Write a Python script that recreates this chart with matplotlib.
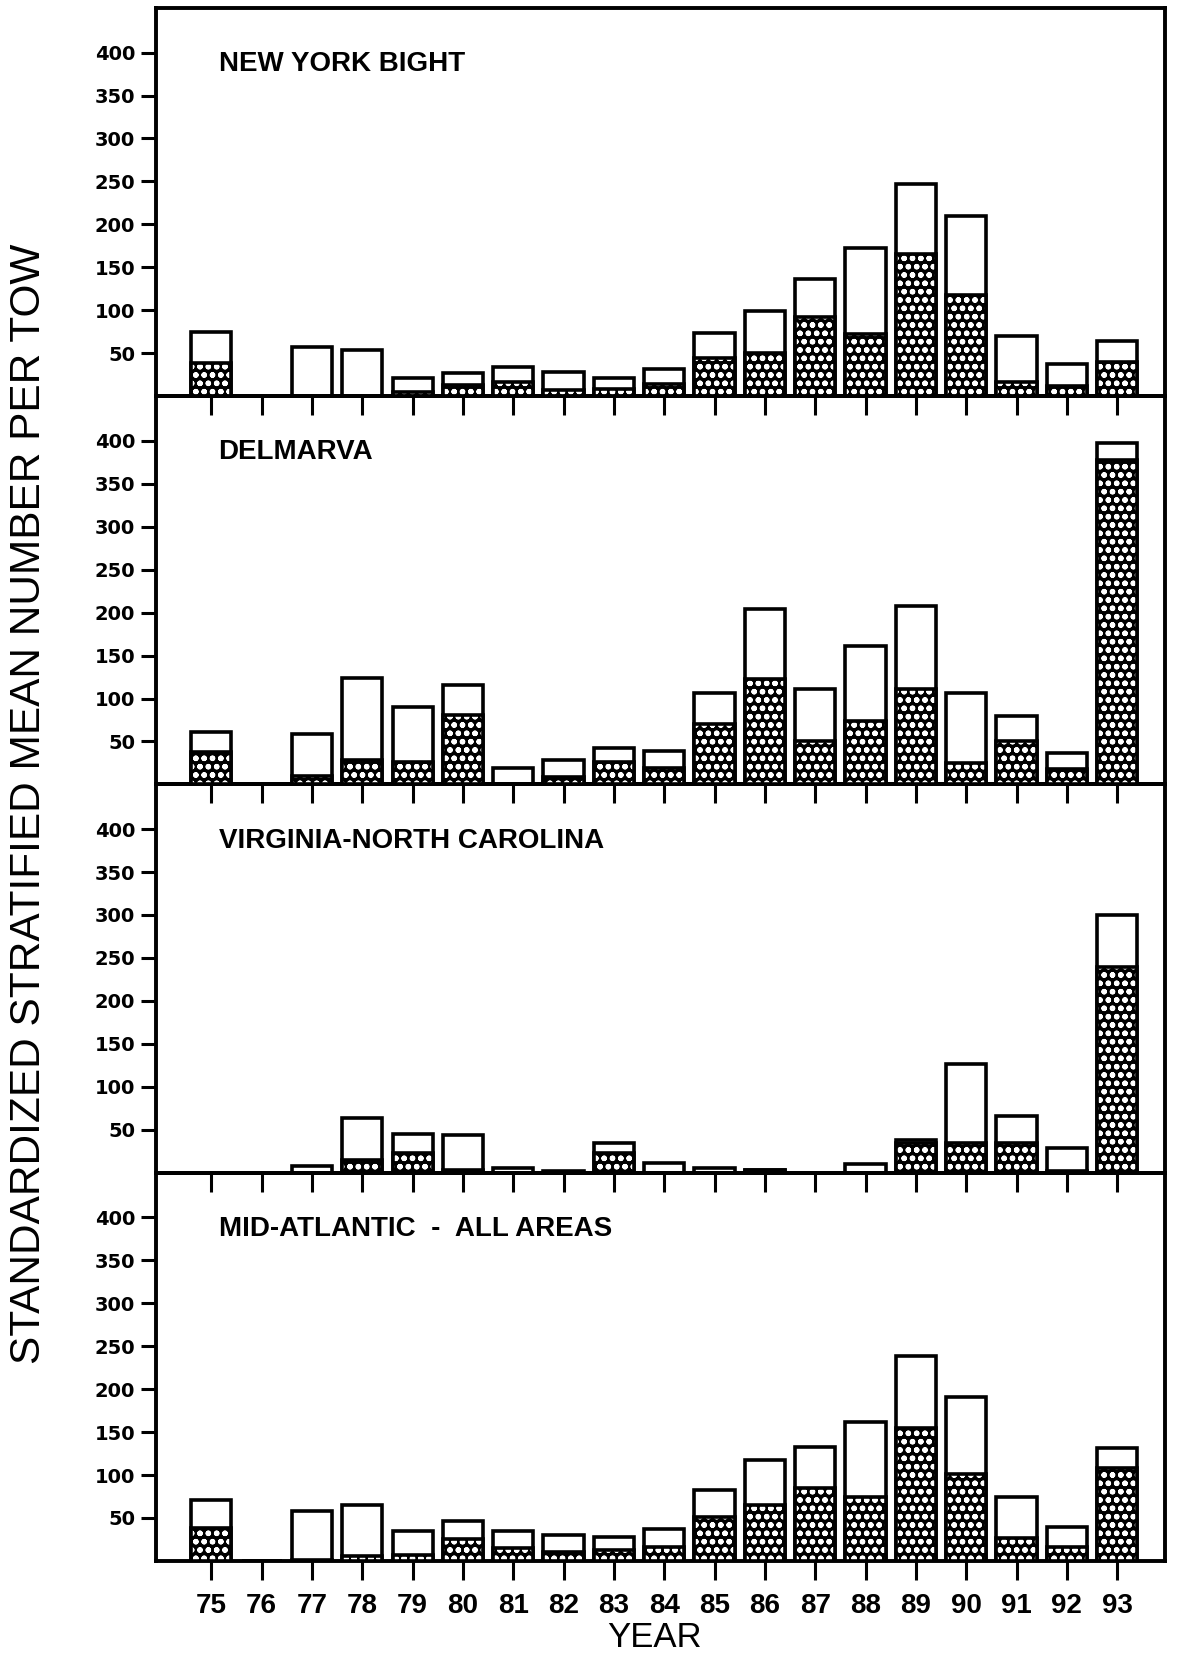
import matplotlib
matplotlib.use("Agg")
from matplotlib import pyplot as plt

plt.rcParams['font.family'] = ['Liberation Sans', 'DejaVu Sans']
plt.rcParams['hatch.linewidth'] = 1.6

years = [75, 76, 77, 78, 79, 80, 81, 82, 83, 84, 85, 86, 87, 88, 89, 90, 91, 92, 93]
year_labels = [str(y) for y in years]
yticks = [50, 100, 150, 200, 250, 300, 350, 400]

# total bar height (open part) and hatched part, per area
nyb_total = [75, 0, 57, 54, 21, 27, 34, 28, 21, 32, 74, 99, 136, 173, 247, 210, 70, 37, 64]
nyb_hatch = [39, 0, 0, 0, 5, 13, 16, 7, 8, 14, 44, 50, 92, 72, 165, 118, 16, 12, 40]

del_total = [61, 0, 59, 124, 90, 116, 19, 28, 42, 39, 106, 204, 111, 161, 208, 106, 80, 37, 398]
del_hatch = [38, 0, 10, 28, 26, 81, 1, 9, 26, 19, 70, 123, 51, 74, 111, 25, 51, 18, 378]

vnc_total = [0, 0, 8, 64, 45, 44, 5, 2, 35, 11, 5, 3, 0, 10, 38, 126, 66, 29, 300]
vnc_hatch = [0, 0, 0, 15, 23, 3, 0, 0, 23, 0, 0, 3, 0, 0, 34, 34, 34, 2, 240]

mid_total = [71, 0, 58, 65, 35, 46, 35, 30, 28, 37, 83, 118, 133, 162, 239, 191, 75, 40, 132]
mid_hatch = [38, 0, 1, 6, 7, 26, 15, 10, 13, 16, 51, 65, 85, 74, 155, 101, 27, 16, 108]

panels = [
    ("NEW YORK BIGHT", nyb_total, nyb_hatch),
    ("DELMARVA", del_total, del_hatch),
    ("VIRGINIA-NORTH CAROLINA", vnc_total, vnc_hatch),
    ("MID-ATLANTIC  -  ALL AREAS", mid_total, mid_hatch),
]

fig = plt.figure(figsize=(11.78, 16.53), dpi=100)
left, width = 0.1324, 0.8566
top, bottom = 0.9952, 0.0557
h = (top - bottom) / 4

for i, (name, total, hatched) in enumerate(panels):
    ax = fig.add_axes([left, top - (i + 1) * h, width, h])
    ax.patch.set_alpha(0)
    ax.set_zorder(10 - i)
    # open bars
    ax.bar(years, total, width=0.8, color='white', edgecolor='black', linewidth=2.6, zorder=2)
    # hatched part: black with white dots
    ax.bar(years, hatched, width=0.8, color='black', edgecolor='white', hatch='oo',
           linewidth=0, zorder=3)
    ax.bar(years, hatched, width=0.8, fill=False, edgecolor='black', linewidth=2.6, zorder=4)
    ax.set_xlim(73.9, 93.95)
    ax.set_ylim(0, 452)
    ax.set_yticks(yticks)
    ax.set_yticklabels([str(t) for t in yticks], fontsize=14, fontweight='bold',
                       family='DejaVu Sans')
    ax.set_xticks(years)
    if i == 3:
        ax.set_xticklabels(year_labels, fontsize=20, fontweight='bold')
    else:
        ax.set_xticklabels([])
    ax.tick_params(axis='both', direction='out', width=2.2, length=11, pad=4)
    ax.tick_params(axis='x', length=14, pad=9)
    for sp in ax.spines.values():
        sp.set_linewidth(2.8)
    ax.text(0.062, 0.855, name, transform=ax.transAxes, fontsize=20,
            fontweight='bold', va='center', ha='left')

fig.text(0.556, 0.0095, "YEAR", fontsize=25, va='center', ha='center')
fig.text(0.025, 0.514, "STANDARDIZED STRATIFIED MEAN NUMBER PER TOW", rotation=90,
         fontsize=30.5, va='center', ha='center')

plt.savefig("out.png", dpi=100)
plt.close()
